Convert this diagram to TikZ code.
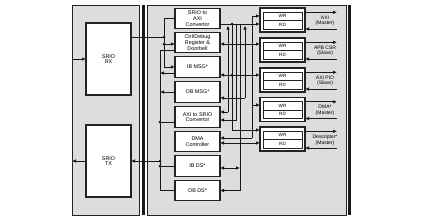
\documentclass[tikz,border=0pt]{standalone}
\usepackage{fontspec}
\setmainfont{Liberation Sans}
\usepackage{tikz}
\usetikzlibrary{positioning,arrows.meta,calc}
\definecolor{panelgray}{RGB}{221,221,221}
\definecolor{edgegray}{RGB}{35,35,35}

\begin{document}
\begin{tikzpicture}[
  x=1pt, y=-1pt,
  font=\fontsize{5.4}{5.7}\selectfont,
  panel/.style={draw=edgegray, fill=panelgray, line width=0.9pt, inner sep=0pt, outer sep=0pt},
  box/.style={draw=edgegray, fill=white, line width=1.1pt, inner sep=0pt, outer sep=0pt, align=center, text=black, minimum width=45pt, minimum height=20.5pt},
  bigbox/.style={box, minimum height=72pt},
  port/.style={box, minimum height=24pt},
  half/.style={draw=edgegray, fill=white, line width=0.9pt, inner sep=0pt, outer sep=0pt, minimum width=39pt, minimum height=8.5pt, text=black, font=\fontsize{4.6}{5}\selectfont},
  bar/.style={fill=black!90, draw=none},
  wire/.style={draw=black!90, line width=0.95pt},
  arr/.style={wire, -{Latex[length=4pt,width=3.6pt]}},
  darr/.style={wire, {Latex[length=4pt,width=3.6pt]}-{Latex[length=4pt,width=3.6pt]}},
  dot/.style={circle, fill=black!90, inner sep=0pt, minimum size=3pt},
  lab/.style={align=center, text=black, font=\fontsize{5}{5.5}\selectfont},
]
\fill[white] (0,0) rectangle (423,220);
\useasboundingbox (0,0) rectangle (423,220);
% ---- panels and bus bars ----
\node[panel, minimum width=67pt, minimum height=210pt] (srio) at (105.5,110) {};
\node[panel, minimum width=199pt, minimum height=210pt] (core) at (246.5,110) {};
\fill[bar] (142,5) rectangle (145,215);
\fill[bar] (348,5) rectangle (351,215);
% ---- SRIO ----
\node[bigbox] (rx) at (108.5,59) {SRIO\\RX};
\node[bigbox] (tx) at (108.5,161) {SRIO\\TX};
% ---- core blocks ----
\node[box] (g2a) at (197.5,18.5) {SRIO to\\AXI\\Convertor};
\node[box] (ctrl) at (197.5,42.5) {Ctrl/Debug\\Register \&\\Doorbell};
\node[box] (ibm) at (197.5,67) {IB MSG*};
\node[box] (obm) at (197.5,92) {OB MSG*};
\node[box] (a2g) at (197.5,117) {AXI to SRIO\\Convertor};
\node[box] (dma) at (197.5,141.5) {DMA\\Controller};
\node[box] (ibd) at (197.5,166) {IB DS*};
\node[box] (obd) at (197.5,190.5) {OB DS*};
% ---- WR/RD ports ----
\node[port] (blk1) at (282.5,20) {};
\node[half] (wr1) at (282.5,16.25) {WR};
\node[half] (rd1) at (282.5,24.75) {RD};
\node[port] (blk2) at (282.5,50) {};
\node[half] (wr2) at (282.5,46.25) {WR};
\node[half] (rd2) at (282.5,54.75) {RD};
\node[port] (blk3) at (282.5,80) {};
\node[half] (wr3) at (282.5,76.25) {WR};
\node[half] (rd3) at (282.5,84.75) {RD};
\node[port] (blk4) at (282.5,109.5) {};
\node[half] (wr4) at (282.5,105.75) {WR};
\node[half] (rd4) at (282.5,114.25) {RD};
\node[port] (blk5) at (282.5,139) {};
\node[half] (wr5) at (282.5,135.25) {WR};
\node[half] (rd5) at (282.5,143.75) {RD};
% ---- interface labels ----
\node[lab] (lab1) at (325,21) {AXI\\(Master)};
\node[lab] (lab2) at (325,51) {APB CSR\\(Slave)};
\node[lab] (lab3) at (325,81) {AXI PIO\\(Slave)};
\node[lab] (lab4) at (325,110.5) {DMA*\\(Master)};
\node[lab] (lab5) at (325,140) {Descriptor*\\(Master)};
% ---- external ports ----
\coordinate (o1) at (337,12.3);  \coordinate (i1) at (337,29);
\coordinate (o2) at (337,42.3);  \coordinate (i2) at (337,59);
\coordinate (o3) at (337,72.3);  \coordinate (i3) at (337,89);
\coordinate (o4) at (337,101.8); \coordinate (i4) at (337,118.5);
\coordinate (o5) at (337,131.3); \coordinate (i5) at (337,148);
\draw[arr] (blk1.east |- o1) -- (o1);
\draw[arr] (i1) -- (blk1.east |- i1);
\draw[arr] (blk2.east |- o2) -- (o2);
\draw[arr] (i2) -- (blk2.east |- i2);
\draw[arr] (blk3.east |- o3) -- (o3);
\draw[arr] (i3) -- (blk3.east |- i3);
\draw[arr] (blk4.east |- o4) -- (o4);
\draw[arr] (i4) -- (blk4.east |- i4);
\draw[arr] (blk5.east |- o5) -- (o5);
\draw[arr] (i5) -- (blk5.east |- i5);
% ---- serial side ----
\draw[arr] (srio.west |- rx) -- (rx.west);
\draw[arr] (tx.west) -- (srio.west |- tx);
% ---- left buses ----
\coordinate (a1) at (164,18);  \coordinate (a2) at (164,37);
\coordinate (a3) at (164,44);  \coordinate (a4) at (164,67);
\draw[wire] (g2a.west |- a1) -- (a1) -- (a4);
\draw[wire] (rx.east |- a2) -- (a2);
\draw[arr] (a3) -- (ctrl.west |- a3);
\draw[arr] (a4) -- (ibm.west |- a4);
\coordinate (b1) at (160,50);  \coordinate (b2) at (160,73);
\coordinate (b3) at (160,92);  \coordinate (b4) at (160,122);
\coordinate (b5) at (160,161); \coordinate (b6) at (160,166);
\coordinate (b7) at (160,190.5);
\draw[wire] (ctrl.west |- b1) -- (b1) -- (b7) -- (obd.west |- b7);
\draw[arr] (ibm.west |- b2) -- (b2);
\draw[arr] (obm.west |- b3) -- (b3);
\draw[wire] (b4) -- (a2g.west |- b4);
\draw[arr] (b5) -- (tx.east |- b5);
\draw[wire] (b6) -- (ibd.west |- b6);
\node[dot] at (a2) {}; \node[dot] at (a3) {};
\node[dot] at (b4) {}; \node[dot] at (b5) {}; \node[dot] at (b6) {};
% ---- right buses ----
\coordinate (r0) at (232,24);  \coordinate (r1) at (232,75);
\coordinate (r2) at (232,130); \coordinate (r3) at (250,44);
\draw[arr] (g2a.east |- r0) -- (blk1.west |- r0);
\draw[arr] (r0) -- (r2) -- (blk5.west |- r2);
\draw[darr] (ibm.east |- r1) -- (blk3.west |- r1);
\draw[darr] (ctrl.east |- r3) -- (blk2.west |- r3);
\coordinate (va1) at (228,25.5); \coordinate (va2) at (228,112);
\draw[arr] (va2) -- (va1);
\draw[arr] (va2) -- (a2g.east |- va2);
\coordinate (vb1) at (245,25.5); \coordinate (vb2) at (245,98);
\draw[arr] (vb2) -- (vb1);
\draw[arr] (vb2) -- (obm.east |- vb2);
\coordinate (vc1) at (236,25); \coordinate (vc2) at (236,120);
\draw[arr] (vc1) -- (vc2) -- (a2g.east |- vc2);
\coordinate (vd1) at (240,25); \coordinate (vd2) at (240,168);
\coordinate (vd3) at (240,190.5);
\draw[arr] (vd1) -- (vd3) -- (obd.east |- vd3);
\draw[darr] (ibd.east |- vd2) -- (vd2);
\coordinate (vm1) at (252,16); \coordinate (vm2) at (252,105);
\coordinate (vm3) at (252,138); \coordinate (dm) at (250,143);
\draw[arr] (vm3) -- (vm1) -- (blk1.west |- vm1);
\draw[arr] (vm2) -- (blk4.west |- vm2);
\draw[arr] (vm3) -- (dma.east |- vm3);
\draw[darr] (dma.east |- dm) -- (blk5.west |- dm);
\node[dot] at (r0) {}; \node[dot] at (r1) {};
\end{tikzpicture}
\end{document}
